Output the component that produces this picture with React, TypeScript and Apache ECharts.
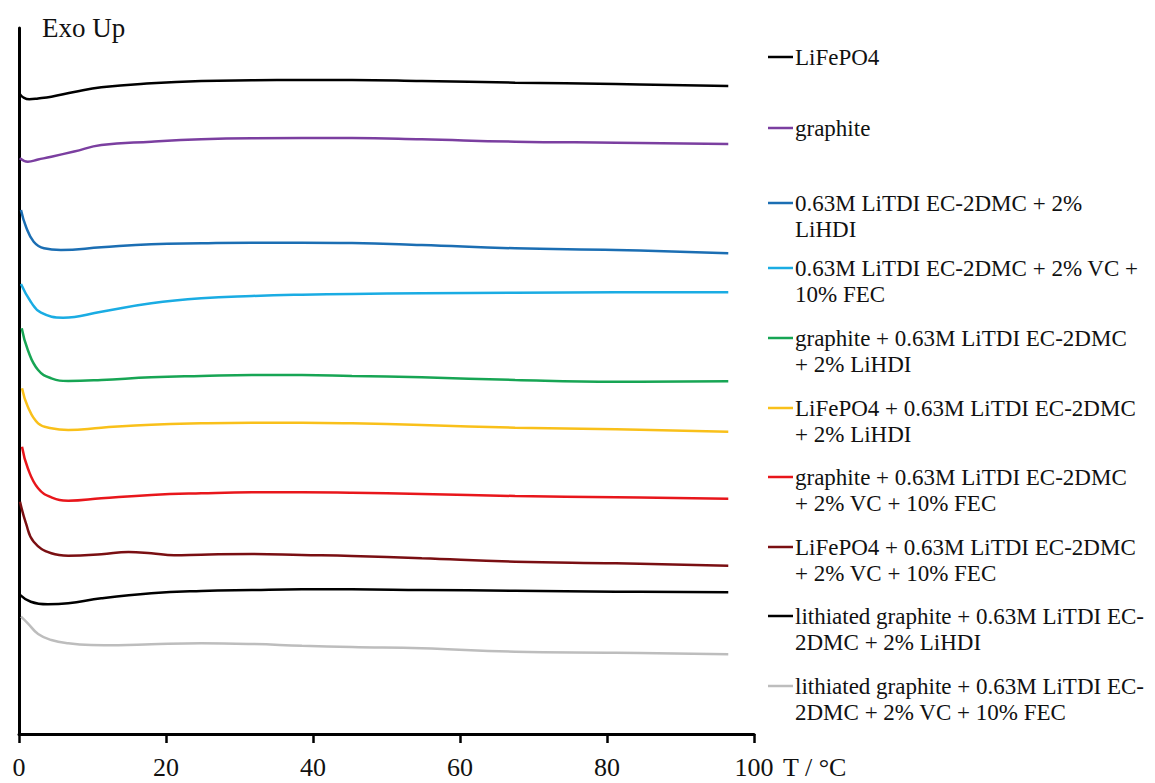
import React, { useEffect, useRef } from "react";
import * as echarts from "echarts";

// Temperature / °C (x) and relative heat flow, arbitrary units (y)
const sLiFePO4: number[][] = [
  [0.1, 640], [0.6, 636.5], [1.4, 634.7], [2.6, 635.5], [4.4, 637.3], [7.5, 642], [11.2, 646.7], [18, 650.7],
  [24.8, 653], [31.7, 653.7], [38.5, 654], [45.3, 654], [54.8, 653], [67.5, 651.3], [81.2, 650], [96.5, 648],
];
const sGraphite: number[][] = [
  [0.1, 575.7], [1.2, 572.3], [2.6, 574.5], [4.4, 577.3], [7.5, 582.5], [11.2, 589], [18, 592.3], [24.8, 594.7],
  [31.7, 595.7], [45.3, 596], [54.8, 594.7], [67.5, 592.3], [81.2, 591.3], [96.5, 590],
];
const sElecLiHDI: number[][] = [
  [0.27, 524], [0.95, 507.3], [2.0, 492.3], [3.4, 485.7], [5.7, 484], [11.2, 486.7], [18, 489.7], [24.8, 490.7],
  [31.7, 491.3], [38.5, 491.3], [45.3, 491], [54.8, 489], [67.5, 485.7], [81.2, 484], [96.5, 480.7],
];
const sElecVCFEC: number[][] = [
  [0.27, 450], [1.6, 432.3], [3.0, 421.3], [6.0, 416.3], [11.2, 422.3], [18, 430.7], [24.8, 435.7], [31.7, 438],
  [38.5, 439.3], [45.3, 440], [54.8, 440.7], [67.5, 441.3], [81.2, 441.7], [96.5, 441.7],
];
const sGraphiteLiHDI: number[][] = [
  [0.37, 405.7], [1.2, 384], [2.6, 364], [4.4, 355.7], [6.7, 353], [11.2, 354], [18, 356.7], [24.8, 358],
  [31.7, 359], [38.5, 359], [45.3, 358], [54.8, 356.7], [67.5, 354], [81.2, 352.3], [96.5, 352.7],
];
const sLiFePO4LiHDI: number[][] = [
  [0.41, 345.7], [1.2, 327.3], [2.6, 310.7], [4.4, 305.7], [6.7, 304], [11.2, 306.3], [18, 309.3], [24.8, 310.7],
  [31.7, 311.3], [38.5, 311.3], [45.3, 310.7], [54.8, 309], [67.5, 306.3], [81.2, 304.7], [96.5, 302.3],
];
const sGraphiteVCFEC: number[][] = [
  [0.41, 287.3], [1.2, 265.7], [2.6, 245.7], [4.4, 236.7], [6.7, 233.3], [11.2, 235.7], [18, 239], [24.8, 240.7],
  [31.7, 241.7], [38.5, 241.7], [45.3, 241.3], [54.8, 240], [67.5, 238], [81.2, 236.7], [96.5, 235.3],
];
const sLiFePO4VCFEC: number[][] = [
  [0.14, 232.3], [0.95, 210.7], [2.0, 192.3], [4.4, 180.7], [6.7, 178.3], [11.2, 179.7], [14.9, 182], [18, 180.7],
  [21.1, 178.7], [24.8, 179.3], [31.7, 180], [38.5, 179], [45.3, 178], [54.8, 175.7], [67.5, 172.3],
  [81.2, 170.7], [96.5, 168.3],
];
const sLithLiHDI: number[][] = [
  [0.05, 139.7], [1.6, 132.3], [3.9, 129.7], [6.7, 130.7], [11.2, 135.7], [18, 140.7], [24.8, 143], [31.7, 144],
  [38.5, 144.7], [45.3, 144.7], [54.8, 144], [67.5, 143.3], [81.2, 142.3], [96.5, 141.7],
];
const sLithVCFEC: number[][] = [
  [0.27, 117.3], [1.2, 110.7], [2.6, 100], [4.4, 94], [6.7, 90.7], [9.8, 89], [13.5, 88.7], [18, 89.7], [24.8, 90.7],
  [31.7, 90], [38.5, 88.3], [45.3, 87], [54.8, 85.7], [67.5, 82.3], [81.2, 81.3], [96.5, 79.7],
];

const seriesData = [
  sLiFePO4, sGraphite, sElecLiHDI, sElecVCFEC, sGraphiteLiHDI,
  sLiFePO4LiHDI, sGraphiteVCFEC, sLiFePO4VCFEC, sLithLiHDI, sLithVCFEC,
];

const legendLabels = [
  "LiFePO4",
  "graphite",
  "0.63M LiTDI EC-2DMC + 2%\nLiHDI",
  "0.63M LiTDI EC-2DMC + 2% VC +\n10% FEC",
  "graphite + 0.63M LiTDI EC-2DMC\n+ 2% LiHDI",
  "LiFePO4 + 0.63M LiTDI EC-2DMC\n+ 2% LiHDI",
  "graphite + 0.63M LiTDI EC-2DMC\n+ 2% VC + 10% FEC",
  "LiFePO4 + 0.63M LiTDI EC-2DMC\n+ 2% VC + 10% FEC",
  "lithiated graphite + 0.63M LiTDI EC-\n2DMC + 2% LiHDI",
  "lithiated graphite + 0.63M LiTDI EC-\n2DMC + 2% VC + 10% FEC",
];

const seriesColors = [
  "#000000", "#7B3FA0", "#1B6EB3", "#1AACE3", "#17A554",
  "#F9C01A", "#E8161B", "#7A0F12", "#000000", "#BDBDBD",
];

const xTicks = [0, 20, 40, 60, 80, 100];
const xAxisTitle = "T / °C";
const yAxisTitle = "Exo Up";

// legend layout (pixel row of each entry's marker)
const legendRowY = [57, 128, 203, 268, 338, 408, 477, 547, 616, 686];

const FONT = "Liberation Serif";

export default function App() {
  const ref = useRef<HTMLDivElement>(null);

  useEffect(() => {
    if (!ref.current) return;
    const chart = echarts.init(ref.current, undefined, { renderer: "svg" });

    const names = legendLabels.map((l) => l.replace("\n", " "));

    const graphic: any[] = [];
    legendLabels.forEach((label, i) => {
      const y = legendRowY[i];
      graphic.push({
        type: "line",
        shape: { x1: 768, y1: y, x2: 793, y2: y },
        style: { stroke: seriesColors[i], lineWidth: 2.5 },
        silent: true,
      });
      graphic.push({
        type: "text",
        x: 795,
        y: y - 13.25,
        style: {
          text: label,
          fill: "#111",
          fontFamily: FONT,
          fontSize: 23,
          lineHeight: 26.5,
          verticalAlign: "top",
          align: "left",
        },
        silent: true,
      });
    });
    graphic.push({
      type: "text",
      x: 783,
      y: 767,
      style: {
        text: xAxisTitle,
        fill: "#111",
        fontFamily: FONT,
        fontSize: 26,
        verticalAlign: "middle",
        align: "left",
      },
      silent: true,
    });

    chart.setOption({
      animation: false,
      backgroundColor: "#ffffff",
      textStyle: { fontFamily: FONT },
      grid: {
        left: 19,
        right: 401,
        top: 28,
        bottom: 49,
        containLabel: false,
        outerBoundsMode: "none",
      },
      xAxis: {
        type: "value",
        min: xTicks[0],
        max: xTicks[xTicks.length - 1],
        interval: xTicks[1] - xTicks[0],
        axisLine: { show: true, lineStyle: { color: "#000", width: 3 } },
        axisTick: { show: true, length: 9, lineStyle: { color: "#000", width: 2.5 } },
        axisLabel: { fontFamily: FONT, fontSize: 26, color: "#111", margin: 20, lineHeight: 26 },
        splitLine: { show: false },
      },
      yAxis: {
        type: "value",
        min: 0,
        max: 706,
        name: yAxisTitle,
        nameLocation: "end",
        nameGap: 0,
        nameTextStyle: {
          fontFamily: FONT,
          fontSize: 27,
          color: "#111",
          align: "left",
          verticalAlign: "middle",
          padding: [0, 0, 0, 23],
        },
        axisLine: { show: true, onZero: false, lineStyle: { color: "#000", width: 3 } },
        axisTick: { show: false },
        axisLabel: { show: false },
        splitLine: { show: false },
      },
      series: seriesData.map((d, i) => ({
        type: "line",
        name: names[i],
        data: d,
        showSymbol: false,
        smooth: 0.45,
        lineStyle: { color: seriesColors[i], width: 2.5 },
        itemStyle: { color: seriesColors[i] },
        z: 3,
      })),
      graphic,
    });

    return () => chart.dispose();
  }, []);

  return (
    <div
      ref={ref}
      style={{ position: "fixed", left: 0, top: 0, width: 1155, height: 783, background: "#fff" }}
    />
  );
}
